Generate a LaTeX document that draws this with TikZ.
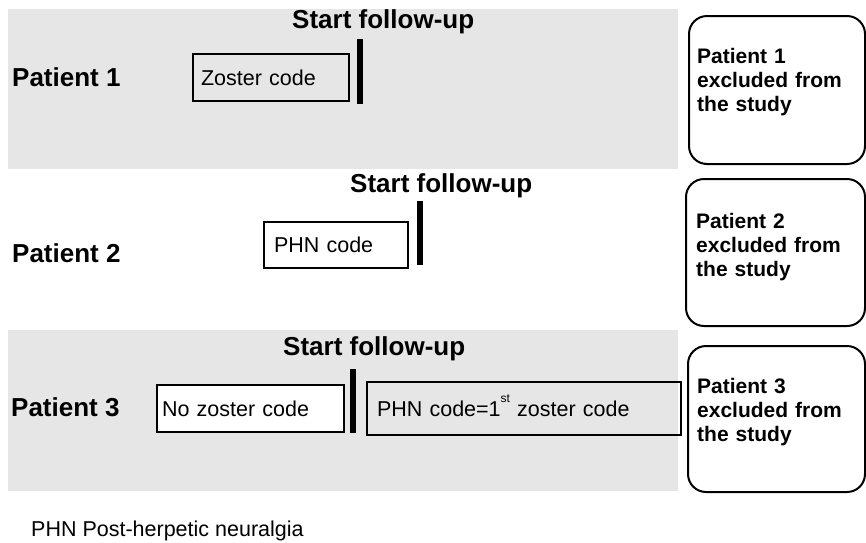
\documentclass[tikz,border=0pt]{standalone}
\usepackage{fontspec}
\setmainfont{Liberation Sans}
\usepackage{tikz}
\usetikzlibrary{positioning}
\usepackage{xcolor}
\definecolor{bandgray}{RGB}{230,230,230}
\newcommand{\supst}[1]{\raisebox{14pt}{\fontsize{12}{12}\selectfont #1}}

\begin{document}
\begin{tikzpicture}[x=1pt, y=-1pt,
    patient/.style={anchor=base west, inner sep=0pt, font=\bfseries\fontsize{26}{30}\selectfont},
    startfu/.style={patient},
    codebox/.style={draw, line width=2pt, anchor=north west, inner ysep=0pt,
        text height=15.5pt, text depth=0pt, font=\fontsize{21.5}{25}\selectfont},
    exclbox/.style={draw, line width=2pt, rounded corners=18pt, anchor=north west, inner sep=0pt},
    excltext/.style={anchor=base west, inner sep=0pt, align=left, text width=165pt,
        font=\bfseries\fontsize{21}{24}\selectfont},
    bar/.style={line width=6pt}]
    \useasboundingbox (0,0) rectangle (866,542);
    % grey bands
    \fill[bandgray] (8,9) rectangle (678,169);
    \fill[bandgray] (8,330) rectangle (678,491);

    % patient 1
    \node[patient] (p1) at (12,86) {Patient 1};
    \node[startfu] (s1) at (292,28) {Start follow-up};
    \node[codebox, inner xsep=8pt, text width=140pt, minimum height=47pt] (zc) at (192,53) {Zoster code};
    \coordinate (b1t) at (360,39);
    \coordinate (b1b) at (360,104);
    \draw[bar] (b1t) -- (b1b);
    \node[exclbox, minimum width=176pt, minimum height=148pt] (ex1) at (688,15) {};
    \node[excltext] (ex1t) at ([xshift=9pt,yshift=-48pt]ex1.north west) {Patient 1\\excluded from\\the study};

    % patient 2
    \node[patient] (p2) at (12,262) {Patient 2};
    \node[startfu] (s2) at (350,192) {Start follow-up};
    \node[codebox, inner xsep=10pt, text width=124pt, minimum height=46pt] (phn) at (263,221) {PHN code};
    \coordinate (b2t) at (419.5,201);
    \coordinate (b2b) at (419.5,265);
    \draw[bar] (b2t) -- (b2b);
    \node[exclbox, minimum width=179pt, minimum height=147pt] (ex2) at (685,178) {};
    \node[excltext] (ex2t) at ([xshift=11pt,yshift=-50pt]ex2.north west) {Patient 2\\excluded from\\the study};

    % patient 3
    \node[patient] (p3) at (11,416) {Patient 3};
    \node[startfu] (s3) at (283,355) {Start follow-up};
    \node[codebox, fill=white, inner xsep=5pt, text width=177pt, minimum height=47pt] (nzc) at (156,384) {No zoster code};
    \node[codebox, inner xsep=10pt, text width=294pt, minimum height=53pt] (first) at (366,381) {PHN code=1\supst{st} zoster code};
    \coordinate (b3t) at (353,369);
    \coordinate (b3b) at (353,433);
    \draw[bar] (b3t) -- (b3b);
    \node[exclbox, minimum width=177pt, minimum height=146pt] (ex3) at (687,345) {};
    \node[excltext] (ex3t) at ([xshift=10pt,yshift=-48pt]ex3.north west) {Patient 3\\excluded from\\the study};

    % footnote
    \node[anchor=base west, inner sep=0pt, font=\fontsize{21.5}{25}\selectfont] (note) at (31,536) {PHN Post-herpetic neuralgia};
\end{tikzpicture}
\end{document}
